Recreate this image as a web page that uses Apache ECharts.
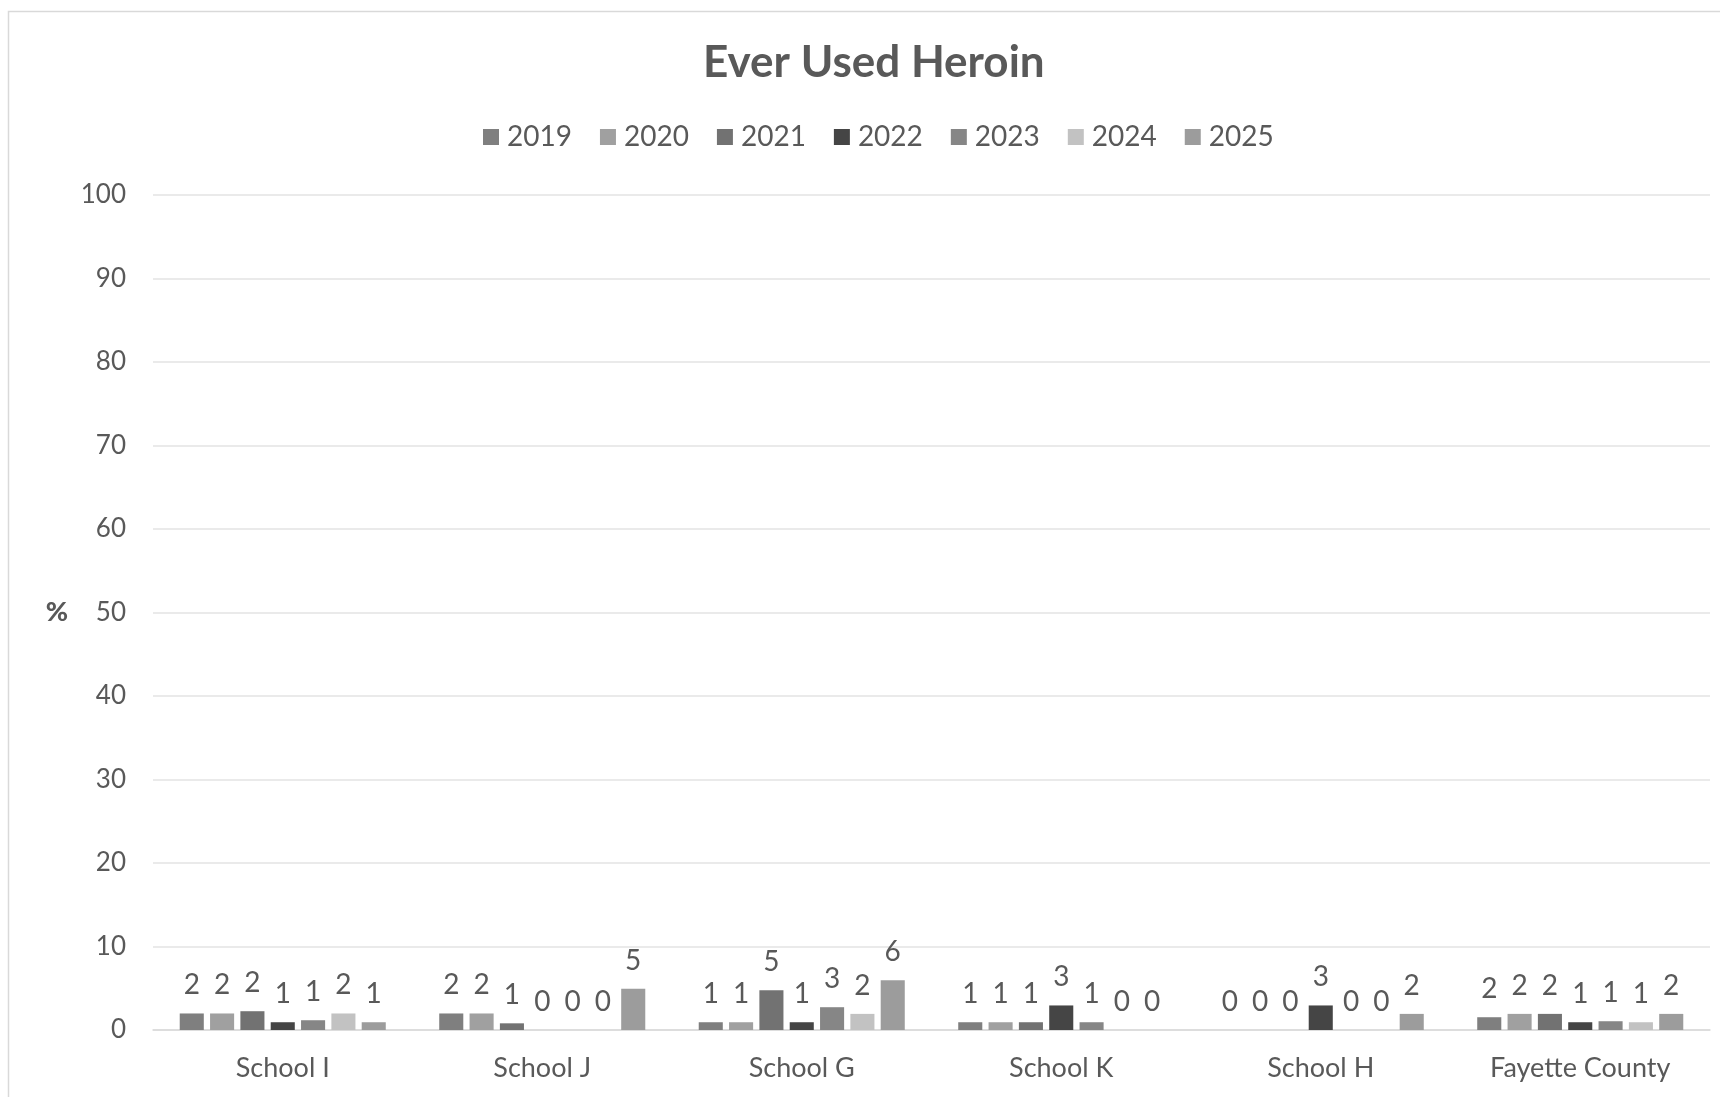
<!DOCTYPE html>
<html>
<head>
<meta charset="utf-8">
<script src="https://cdn.jsdelivr.net/npm/echarts@6/dist/echarts.min.js"></script>
<style>
html,body{margin:0;padding:0;background:#fff;}
#c{width:1720px;height:1097px;}
</style>
</head>
<body>
<div id="c"></div>
<script>
const categories = ['School I', 'School J', 'School G', 'School K', 'School H', 'Fayette County'];
const years = ['2019', '2020', '2021', '2022', '2023', '2024', '2025'];
const v2019 = [1.98, 1.98, 0.93, 0.93, 0, 1.53];
const v2020 = [1.98, 1.98, 0.93, 0.93, 0, 1.93];
const v2021 = [2.25, 0.8, 4.75, 0.93, 0, 1.93];
const v2022 = [0.93, 0, 0.93, 2.94, 2.94, 0.93];
const v2023 = [1.17, 0, 2.73, 0.93, 0, 1.05];
const v2024 = [1.98, 0, 1.93, 0, 0, 0.93];
const v2025 = [0.93, 4.94, 5.95, 0, 1.93, 1.93];
const yTicks = [0, 10, 20, 30, 40, 50, 60, 70, 80, 90, 100];

const seriesValues = [v2019, v2020, v2021, v2022, v2023, v2024, v2025];
const colors = ['#7f7f7f', '#a0a0a0', '#727272', '#454545', '#868686', '#c2c2c2', '#9c9c9c'];
const FONT = 'Lato';
const TXT = '#595959';

const chart = echarts.init(document.getElementById('c'), null, {renderer: 'canvas'});
chart.setOption({
  animation: false,
  backgroundColor: '#fff',
  color: colors,
  textStyle: {fontFamily: FONT, color: TXT},
  title: {
    text: 'Ever Used Heroin',
    left: 698,
    top: 36,
    textStyle: {fontFamily: FONT, fontSize: 44, fontWeight: 'bold', color: TXT}
  },
  legend: {
    data: years,
    top: 118,
    left: 478,
    itemWidth: 16,
    itemHeight: 16,
    itemGap: 28,
    icon: 'rect',
    textStyle: {fontFamily: FONT, fontSize: 28, color: TXT, padding: [0, 0, 0, 3]}
  },
  graphic: [{
    type: 'rect',
    shape: {x: 8.5, y: 11.5, width: 1740, height: 1120},
    style: {fill: 'none', stroke: '#d9d9d9', lineWidth: 1.5},
    silent: true,
    z: -1
  }],
  grid: {left: 153, right: 10, top: 195, bottom: 67, containLabel: false},
  xAxis: {
    type: 'category',
    data: categories,
    axisLine: {show: true, lineStyle: {color: '#d9d9d9', width: 1.5}},
    axisTick: {show: false},
    axisLabel: {fontFamily: FONT, fontSize: 27, color: TXT, margin: 25}
  },
  yAxis: {
    type: 'value',
    min: yTicks[0],
    max: yTicks[yTicks.length - 1],
    interval: yTicks[1] - yTicks[0],
    name: '%',
    nameLocation: 'middle',
    nameGap: 85,
    nameRotate: 0,
    nameTextStyle: {fontFamily: FONT, fontSize: 27, fontWeight: 900, color: TXT, padding: [6, 0, 0, 0]},
    axisLine: {show: false},
    axisTick: {show: false},
    axisLabel: {fontFamily: FONT, fontSize: 26, color: TXT, margin: 27, padding: [5, 0, 0, 0]},
    splitLine: {lineStyle: {color: '#e3e3e3', width: 1.5}}
  },
  series: years.map((y, i) => ({
    name: y,
    type: 'bar',
    data: seriesValues[i],
    barGap: '26%',
    barCategoryGap: '20.6%',
    itemStyle: {color: colors[i]},
    label: {
      show: true,
      position: 'top',
      distance: 14,
      fontFamily: FONT,
      fontSize: 28,
      color: TXT,
      formatter: p => String(Math.round(p.value))
    }
  }))
});
</script>
</body>
</html>
